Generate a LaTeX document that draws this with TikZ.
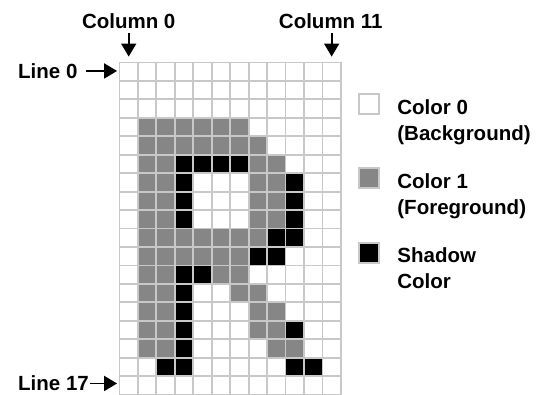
\documentclass[tikz,border=0pt]{standalone}
\usepackage{fontspec}
\setmainfont{Liberation Sans}
\usetikzlibrary{arrows.meta, positioning}
\usepackage{xcolor}
\definecolor{cGrid}{HTML}{C8C8C8}
\definecolor{cFore}{HTML}{868686}
\definecolor{cShadow}{HTML}{000000}

\begin{document}
\begin{tikzpicture}[
  x=1pt, y=-1pt,
  cell/.style={draw=cGrid, fill=#1, line width=1.8pt,
    minimum size=18.45pt, inner sep=0pt},
  cell/.default=white,
  key/.style={draw=cGrid, fill=#1, line width=1.8pt,
    minimum size=20pt, inner sep=0pt},
  lbl/.style={font=\fontsize{20.5}{26}\selectfont\bfseries, text=black,
    inner sep=0pt},
  keytxt/.style={lbl, align=left},
  ptr/.style={-{Triangle[length=13pt, width=15pt]}, line width=1.8pt}
]
  \useasboundingbox (0,0) rectangle (543,395);

  \foreach \r in {0,...,17}
    \foreach \c in {0,...,11}
      \node[cell] (c-\r-\c) at ({128.7+18.45*\c}, {71.7+18.45*\r}) {};

  \foreach \r/\cols in {3/{1,...,6}, 4/{1,...,7}, 5/{1,2,7,8}, 6/{1,2,7,8},
      7/{1,2,7,8}, 8/{1,2,7,8}, 9/{1,...,7}, 10/{1,...,6}, 11/{1,2,5,6},
      12/{1,2,6,7}, 13/{1,2,7,8}, 14/{1,2,7,8}, 15/{1,2,8,9}}
    \foreach \c in \cols
      \node[cell=cFore] at (c-\r-\c) {};

  \foreach \r/\cols in {5/{3,4,5,6}, 6/{3,9}, 7/{3,9}, 8/{3,9}, 9/{8,9},
      10/{7,8}, 11/{3,4}, 12/{3}, 13/{3}, 14/{3,9}, 15/{3}, 16/{2,3,9,10}}
    \foreach \c in \cols
      \node[cell=cShadow] at (c-\r-\c) {};

  \node[lbl, anchor=base] (col0) at (128.7, 29) {Column 0};
  \draw[ptr, shorten <=4pt, shorten >=5pt] (col0) -- (c-0-0);

  \node[lbl, anchor=base] (col11) at (330.8, 28.5) {Column 11};
  \draw[ptr, shorten <=4pt, shorten >=5pt] (col11.south -| c-0-11) -- (c-0-11.north);

  \node[lbl, anchor=base west] (line0) at (18, 78.3) {Line 0};
  \draw[ptr, shorten <=8pt, shorten >=1.5pt] (line0.east) -- (line0.east -| c-0-0.west);

  \node[lbl, anchor=base west] (line17) at (18, 390.8) {Line 17};
  \draw[ptr, shorten <=1pt, shorten >=1.5pt] (line17.east) -- (line17.east -| c-17-0.west);

  \node[key=white] (k0) at (369.3, 104) {};
  \node[keytxt, below right=6pt and 17pt] at (k0.north east) {Color 0\\(Background)};

  \node[key=cFore] (k1) at (369.3, 178.3) {};
  \node[keytxt, below right=6pt and 17pt] at (k1.north east) {Color 1\\(Foreground)};

  \node[key=cShadow] (k2) at (369.3, 252.7) {};
  \node[keytxt, below right=6pt and 17pt] at (k2.north east) {Shadow\\Color};

\end{tikzpicture}
\end{document}
